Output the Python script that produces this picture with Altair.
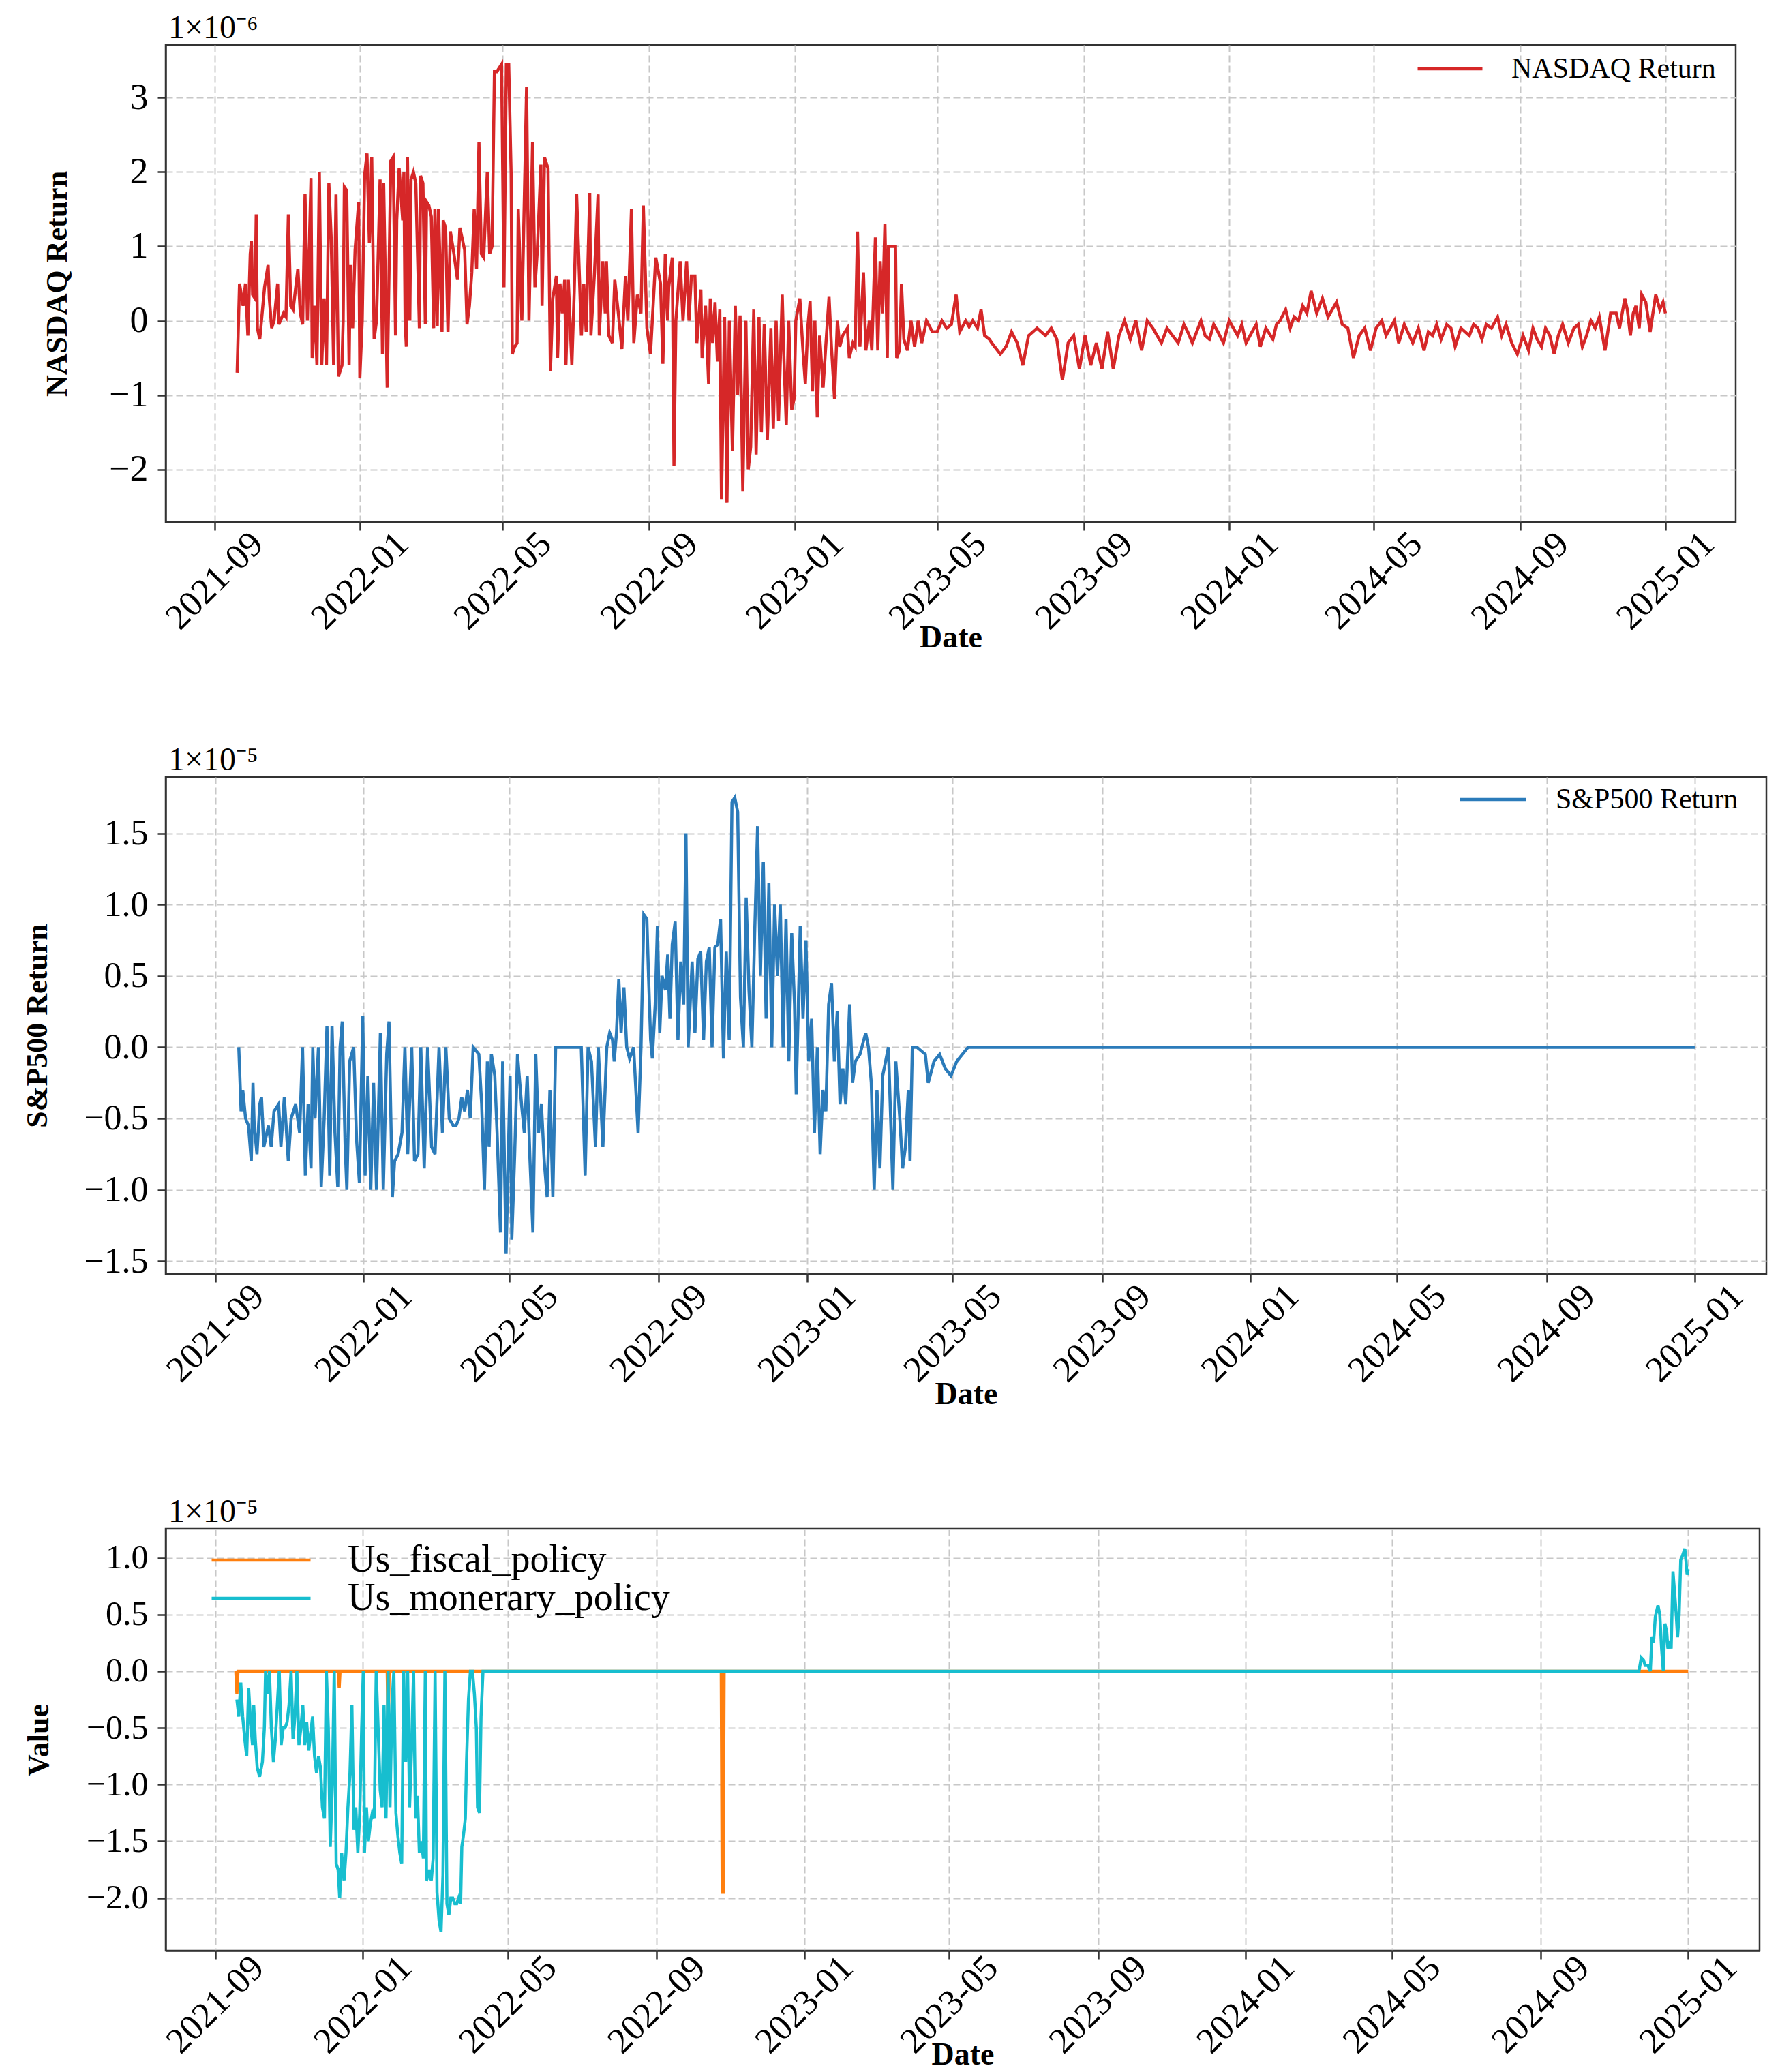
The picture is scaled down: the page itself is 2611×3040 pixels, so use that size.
import pandas as pd
import altair as alt

# -----------------------------
# DATOS
# día = días desde 2021-09-01, valor en unidades del multiplicador del eje
# -----------------------------
START = pd.Timestamp("2021-09-01")

# NASDAQ Return (x 1e-6)
nasdaq_pts = [
    (19, -0.7), (21, 0.5), (24, 0.2), (26, 0.5), (28, -0.2), (30, 0.9), (31, 1.07), (32, 0.35), (34, 0.3), (35, 1.43),
    (36, -0.1), (38, -0.25), (40, 0.1), (42, 0.45), (45, 0.75), (46, 0.3), (48, -0.1), (50, 0.0), (53, 0.5), (54, -0.05),
    (58, 0.1), (60, 0.05), (62, 1.43), (64, 0.2), (66, 0.15), (70, 0.7), (72, 0.1), (74, -0.05), (76, 1.7), (78, 0.0),
    (81, 1.92), (82, -0.5), (84, 0.2), (86, -0.6), (88, 2.0), (90, -0.6), (92, 0.3), (94, -0.6), (96, 1.85), (98, 1.1),
    (100, -0.6), (102, 1.7), (104, -0.75), (107, -0.6), (108, 0.0), (109, 1.8), (111, 1.75), (113, -0.6), (114, 0.75), (116, -0.1),
    (118, 0.95), (121, 1.6), (122, -0.77), (124, 0.0), (126, 1.95), (128, 2.25), (130, 1.05), (132, 2.2), (134, -0.25), (136, 0.0),
    (139, 1.9), (141, -0.45), (142, 1.85), (145, -0.9), (148, 2.15), (150, 2.2), (152, -0.2), (153, 1.35), (155, 2.05), (158, 1.35),
    (159, 2.0), (160, 0.0), (161, -0.35), (162, 2.2), (164, 0.0), (165, 1.9), (167, 2.0), (169, 1.85), (172, -0.1), (173, 1.95),
    (175, 1.85), (177, -0.05), (178, 1.6), (180, 1.55), (182, 1.4), (184, -0.1), (185, 1.5), (187, -0.07), (188, 1.5), (191, -0.15),
    (192, 1.35), (194, 1.25), (196, -0.15), (198, 1.2), (201, 0.9), (204, 0.55), (206, 1.25), (210, 0.95), (212, -0.05), (214, 0.2),
    (216, 0.65), (218, 1.5), (220, 0.7), (222, 2.4), (224, 0.9), (226, 0.85), (229, 2.0), (231, 0.9), (233, 1.0), (235, 3.35),
    (237, 3.35), (239, 3.4), (241, 3.45), (243, 0.45), (245, 3.45), (247, 3.45), (249, 2.0), (250, -0.45), (252, -0.35), (254, -0.3),
    (255, 1.5), (258, 0.0), (262, 3.15), (264, 0.0), (267, 2.4), (269, 0.45), (271, 0.95), (274, 2.1), (275, 0.2), (277, 2.2),
    (280, 2.05), (282, -0.68), (284, 0.3), (287, 0.6), (288, -0.5), (290, 0.5), (292, 0.1), (294, 0.55), (295, -0.6), (297, 0.55),
    (300, -0.6), (302, 0.4), (304, 1.7), (308, -0.2), (310, 0.5), (312, -0.15), (315, 1.72), (316, -0.2), (319, 0.65), (322, 1.7),
    (323, -0.2), (326, 0.8), (328, 0.1), (329, 0.8), (331, -0.2), (334, -0.3), (336, 0.55), (339, 0.1), (342, -0.38), (345, 0.6),
    (347, 0.0), (350, 1.5), (352, -0.3), (355, 0.35), (358, 0.1), (360, 1.55), (363, -0.1), (366, -0.45),
    (370.4, 0.85), (374.4, 0.5), (376.4, -0.58), (378.4, 0.9), (380.4, 0.0), (381.3, 0.45), (384.3, 0.85), (385.7, -1.95), (387.3, 0.0), (390.9, 0.8),
    (393.3, 0.0), (396.3, 0.8), (398.3, 0.0), (400.3, 0.6), (403.3, 0.6), (404.9, -0.3), (408.3, 0.42), (409.3, -0.5), (412.2, 0.2), (414.8, -0.85),
    (416.2, 0.3), (418.2, -0.3), (420.2, 0.25), (422.2, -0.55), (424.2, 0.15), (425.6, -2.4), (428.2, 0.05), (430.2, -2.45), (432.2, 0.0), (434.8, -1.75),
    (437.2, 0.2), (439.2, -1.0), (441.2, 0.07), (443.5, -2.3), (446.1, 0.0), (448.1, -2.0), (450.1, -1.7), (452.7, 0.15), (454.7, -1.8), (457.1, 0.05),
    (459.1, -1.5), (461.5, -0.05), (464.1, -1.6), (467.1, -0.1), (469.1, -1.45), (471.5, 0.0), (473.5, -1.35), (476.6, 0.35), (478.0, -0.5), (480.0, -1.4),
    (482.0, 0.0), (484.6, -1.2), (486.6, -1.05), (488.0, 0.0), (491.4, 0.3), (494.0, -0.4), (496.0, -0.85), (498.0, -0.1), (500.0, 0.26), (502.0, -0.95),
    (504.0, 0.0), (506.0, -1.3), (508.0, -0.2), (510.9, -0.9), (512.9, -0.4), (515.9, 0.32), (517.9, -0.35), (520.5, -1.05), (522.9, 0.0), (524.9, -0.35),
    (527.3, -0.2), (531.3, -0.1), (532.9, -0.5), (535.9, -0.3), (537.8, -0.35), (539.8, 1.2), (541.8, -0.35), (544.8, 0.65), (546.8, -0.4), (549.8, 0.0),
    (551.8, -0.4), (554.8, 1.12), (556.8, -0.4), (558.8, 0.8), (560.8, 0.1), (562.8, 1.3), (564.8, -0.5), (565.8, 1.0), (568.7, 1.0), (571.7, 1.0),
    (572.7, -0.5), (575.1, -0.4), (576.7, 0.5), (578.7, -0.25), (581.7, -0.4), (584.7, 0.0), (587.7, -0.35), (590.7, 0.0), (593.7, -0.3), (597.7, 0.0),
    (602.6, -0.15), (606.6, -0.15), (610.6, 0.0), (614.6, -0.1), (618.6, -0.05), (622.6, 0.35), (625.6, -0.15), (630.6, 0.0), (633.5, -0.08), (636.5, 0.0),
    (640.5, -0.1), (643.5, 0.15), (646.5, -0.2), (650.5, -0.25),
    (652.5, -0.3), (659.7, -0.45), (664.4, -0.35), (669.1, -0.15), (673.9, -0.3), (678.6, -0.6), (683.4, -0.2), (690.5, -0.1), (697.6, -0.2), (702.4, -0.1),
    (707.1, -0.25), (711.8, -0.8), (716.6, -0.3), (721.3, -0.2), (726.1, -0.65), (730.8, -0.2), (735.6, -0.6), (740.3, -0.3), (745.0, -0.65), (749.8, -0.15),
    (754.5, -0.65), (759.3, -0.2), (764.0, 0.0), (768.8, -0.25), (773.5, 0.0), (778.3, -0.4), (783.0, 0.0), (787.7, -0.1), (794.9, -0.3), (799.6, -0.1),
    (804.3, -0.2), (809.0, -0.3), (813.8, -0.05), (817.0, -0.15), (820.9, -0.3), (824.5, -0.15), (828.1, 0.0), (831.6, -0.2), (835.2, -0.25), (838.8, -0.05),
    (842.3, -0.15), (847.0, -0.3), (851.8, 0.0), (855.3, -0.1), (858.9, -0.2), (862.4, -0.05), (866.0, -0.3), (871.0, -0.15), (874.5, -0.05), (877.9, -0.35),
    (882.6, -0.1), (888.5, -0.25), (891.5, -0.05), (894.5, 0.0), (899.2, 0.15), (903.0, -0.1), (906.3, 0.05), (910.0, 0.0), (913.5, 0.2), (917.0, 0.1),
    (920.6, 0.4), (925.3, 0.1), (930.1, 0.3), (934.8, 0.05), (941.9, 0.25), (946.7, -0.05), (951.4, -0.1), (956.1, -0.5), (960.9, -0.2), (965.6, -0.1),
    (970.4, -0.4), (975.1, -0.1), (979.9, 0.0), (983.5, -0.2), (987.0, -0.1), (990.5, 0.0), (994.1, -0.3), (998.8, -0.05), (1005.9, -0.3), (1010.6, -0.1),
    (1015.4, -0.4), (1019.0, -0.15), (1022.6, -0.2), (1026.0, -0.05), (1029.7, -0.25), (1034.4, -0.05), (1038.0, -0.1), (1041.5, -0.35), (1046.3, -0.1), (1053.4, -0.2),
    (1057.0, -0.05), (1060.5, -0.1), (1064.0, -0.25), (1067.6, -0.05), (1072.0, -0.1), (1077.1, 0.05), (1080.6, -0.2), (1084.2, -0.05), (1089.0, -0.3), (1093.7, -0.45),
    (1098.5, -0.2), (1103.2, -0.4), (1106.8, -0.1), (1110.3, -0.25), (1114.0, -0.35), (1117.4, -0.1), (1121.0, -0.2), (1124.6, -0.45), (1128.1, -0.2), (1131.7, -0.05),
    (1136.5, -0.3), (1141.2, -0.1), (1144.8, -0.05), (1148.3, -0.35), (1151.8, -0.2), (1155.4, 0.0), (1159.0, -0.1), (1162.5, 0.05), (1167.3, -0.4), (1172.0, 0.1),
    (1176.7, 0.1), (1179.5, -0.1), (1183.9, 0.3), (1186.0, 0.15), (1188.6, -0.2), (1191.0, 0.1), (1193.3, 0.2), (1196.0, -0.1), (1198.1, 0.35), (1201.5, 0.25),
    (1205.2, -0.15), (1207.5, 0.1), (1209.9, 0.35), (1213.3, 0.15), (1216.0, 0.25), (1218.0, 0.1),
]

# S&P500 Return (x 1e-5)
sp500_pts = [
    (19.2, 0.0), (21.1, -0.45), (22.5, -0.3), (24.8, -0.5), (27.2, -0.55), (29.5, -0.8), (30.9, -0.25), (31.9, -0.55), (34.2, -0.75), (36.5, -0.4),
    (37.9, -0.35), (39.8, -0.7), (43.6, -0.55), (45.9, -0.7), (48.2, -0.45), (52.0, -0.4), (53.9, -0.7), (56.7, -0.35), (60.0, -0.8), (62.3, -0.5),
    (66.0, -0.4), (69.3, -0.6), (71.7, 0.0), (74.0, -0.9), (76.3, -0.4), (78.7, -0.85), (80.1, 0.0), (82.0, -0.5), (84.8, 0.0), (87.1, -0.98),
    (89.5, -0.5), (91.8, 0.15), (94.1, -0.9), (96.0, 0.15), (98.4, -0.6), (100.7, -0.98), (102.6, 0.0), (104.4, 0.18), (106.8, -0.7), (108.2, -1.0),
    (110.5, -0.1), (113.8, 0.0), (116.2, -0.65), (118.5, -0.95), (121.3, 0.22), (123.2, -0.9), (125.5, -0.2), (127.9, -1.0), (130.2, -0.25), (132.6, -1.0),
    (135.8, 0.1), (138.2, -1.0), (141.0, -0.05), (142.9, 0.18), (145.7, -1.05), (147.5, -0.8), (150.4, -0.75), (153.6, -0.6), (156.0, 0.0), (158.3, -0.75),
    (161.6, 0.0), (163.9, -0.8), (166.7, -0.75), (169.1, 0.0), (171.9, -0.85), (174.7, 0.0), (178.0, -0.7), (180.8, -0.75), (184.1, 0.0), (186.9, -0.6),
    (189.7, 0.0), (192.5, -0.5), (195.8, -0.55), (198.1, -0.55), (200.5, -0.5), (202.8, -0.35), (205.2, -0.45), (207.5, -0.3), (209.8, -0.5), (212.2, 0.0),
    (216.9, -0.05), (219.2, -0.4), (221.5, -1.0), (223.9, -0.1), (225.3, -0.7), (227.2, -0.05), (230.0, -0.2), (231.9, -0.6), (234.7, -1.3), (236.5, -0.1),
    (239.3, -1.45), (242.6, -0.2), (244.0, -1.35), (246.4, -0.75), (248.7, -0.05), (252.0, -0.4), (254.3, -0.6), (256.7, -0.2), (259.0, -0.8), (261.4, -1.3),
    (263.7, -0.05), (266.0, -0.6), (268.4, -0.4), (270.7, -0.8), (273.1, -1.05), (275.4, -0.3), (277.8, -1.05), (280.1, 0.0), (301.2, 0.0), (304.4, -0.9),
    (306.8, 0.0), (309.6, -0.1), (312.9, -0.7), (315.2, 0.0), (319.0, -0.7), (322.2, 0.0), (324.6, 0.1), (326.9, 0.05), (328.3, -0.1), (330.2, 0.1),
    (332.1, 0.48), (334.0, 0.1), (336.3, 0.42), (338.6, 0.0), (341.0, -0.08), (344.3, 0.0), (348.0, -0.6), (350.4, 0.0), (352.7, 0.93), (355.2, 0.9),
    (356.4, 0.55), (358.3, 0.05), (359.7, -0.08), (362.1, 0.3), (363.9, 0.85), (365.8, 0.1), (367.7, 0.5), (370.5, 0.4), (372.4, 0.65), (374.2, 0.2),
    (376.1, 0.72), (378.5, 0.88), (380.8, 0.05), (383.1, 0.6), (385.5, 0.3), (387.4, 1.5), (389.2, 0.0), (392.5, 0.6), (394.8, 0.1), (397.2, 0.62),
    (399.5, 0.67), (401.9, 0.05), (404.2, 0.6), (406.6, 0.7), (408.9, 0.0), (411.2, 0.7), (413.6, 0.72), (415.9, 0.9), (418.3, -0.08), (420.6, 0.67),
    (423.0, 0.05), (425.3, 1.72), (427.6, 1.75), (430.0, 1.65), (432.3, 0.35), (434.7, 0.0), (437.0, 1.05), (439.3, 0.4), (441.7, 0.0), (444.0, 0.8),
    (446.4, 1.55), (448.7, 0.5), (451.1, 1.3), (453.4, 0.2), (455.7, 1.15), (458.1, 0.0), (460.4, 1.0), (462.8, 0.5), (465.1, 1.0), (467.4, 0.0),
    (469.8, 0.9), (472.1, -0.1), (474.5, 0.8), (476.8, 0.3), (478.2, -0.33), (481.5, 0.85), (483.8, 0.2), (486.2, 0.75), (488.5, -0.1), (490.9, 0.2),
    (493.2, -0.6), (495.6, 0.0), (497.9, -0.75), (500.2, -0.3), (502.6, -0.45), (504.9, 0.3), (507.3, 0.45), (509.6, -0.1), (512.0, 0.25), (514.3, -0.4),
    (516.6, -0.15), (519.0, -0.4), (522.2, 0.3), (524.6, -0.25), (526.9, -0.1), (530.7, -0.05), (535.4, 0.1), (537.7, 0.0), (540.0, -0.25), (542.4, -1.0),
    (544.7, -0.3), (547.1, -0.85), (549.4, -0.2), (551.8, -0.1), (554.1, 0.0), (557.8, -1.0), (560.2, -0.1), (563.5, -0.5), (565.8, -0.85), (568.1, -0.7),
    (570.5, -0.3), (571.9, -0.8), (573.8, 0.0), (577.5, 0.0), (584.5, -0.05), (586.9, -0.25), (591.6, -0.1), (596.3, -0.05), (600.9, -0.15), (605.6, -0.2),
    (610.3, -0.1), (615.0, -0.05), (619.7, 0.0), (1218.0, 0.0),
]

# Us_fiscal_policy (x 1e-5)
fiscal_pts = [
    (17.0, 0.0), (17.9, -0.2), (18.8, 0.0), (101.8, 0.0), (102.5, -0.15), (103.2, 0.0), (142.2, 0.0), (143.0, -0.55),
    (143.8, 0.0), (418.4, 0.0), (419.2, -1.95), (420.0, -1.95), (420.8, 0.0), (1218.0, 0.0),
]

# Us_monerary_policy (x 1e-5)
monetary_pts = [
    (17.9, -0.25), (19.5, -0.4), (21.1, -0.1), (22.7, -0.4), (24.4, -0.6), (26.0, -0.75), (27.6, -0.15), (29.2, -0.45), (30.8, -0.65), (31.8, -0.3),
    (33.1, -0.6), (34.7, -0.85), (36.7, -0.93), (39.0, -0.8), (40.6, -0.5), (41.6, 0.0), (43.2, -0.2), (44.8, 0.0), (46.4, -0.5), (48.1, -0.8),
    (49.7, -0.6), (51.3, -0.3), (52.9, 0.0), (54.5, -0.65), (56.2, -0.5), (57.8, -0.5), (59.4, -0.45), (61.0, -0.3), (62.7, 0.0), (64.3, -0.6),
    (65.9, -0.4), (67.5, 0.0), (69.2, -0.65), (70.8, -0.5), (72.4, -0.3), (74.0, -0.65), (75.6, -0.45), (77.3, -0.7), (78.9, -0.55), (80.5, -0.4),
    (82.1, -0.75), (83.8, -0.9), (85.4, -0.75), (87.0, -0.85), (88.6, -1.2), (90.3, -1.3), (91.9, 0.0), (93.5, -0.5), (95.1, -1.55), (96.8, -1.0),
    (98.4, 0.0), (100.0, -1.7), (101.6, -1.75), (102.9, -2.0), (104.5, -1.6), (106.5, -1.85), (108.1, -1.6), (109.7, -1.2), (111.4, -0.9), (113.0, -0.3),
    (114.6, -1.4), (116.2, -1.2), (117.9, -1.6), (119.5, -1.25), (121.1, -0.5), (122.4, 0.0), (123.4, -1.6), (125.0, -1.2), (126.6, -1.5), (128.2, -1.35),
    (129.9, -1.25), (131.5, -1.3), (133.1, 0.0), (134.7, -0.5), (136.4, -1.05), (138.0, -1.2), (139.6, -0.3), (141.2, -1.3), (142.9, 0.0), (144.5, -1.2),
    (146.1, -0.3), (147.7, 0.0), (149.4, -1.25), (151.0, -1.45), (152.6, -1.6), (154.2, -1.7), (155.8, 0.0), (157.5, -0.8), (159.1, 0.0), (160.7, -1.2),
    (162.3, -0.7), (164.0, 0.0), (165.6, -1.3), (167.2, -1.1), (168.8, -1.6), (170.5, -1.5), (172.1, -1.65), (173.7, 0.0), (174.7, -1.85), (176.9, -1.75),
    (178.6, -1.85), (180.2, -1.65), (181.8, 0.0), (183.4, -1.95), (185.1, -2.2), (186.7, -2.3), (188.3, -1.8), (189.9, 0.0), (191.6, -2.05), (193.2, -2.15),
    (194.8, -2.0), (196.4, -2.0), (198.1, -2.05), (199.7, -2.05), (201.3, -2.0), (202.9, -2.05), (203.9, -1.55), (205.2, -1.45), (206.8, -1.3), (207.8, -0.8),
    (209.4, -0.25), (211.0, 0.0), (212.7, 0.0), (214.3, -0.2), (215.9, -0.5), (216.9, -1.2), (218.5, -1.25), (219.8, -0.4), (221.4, 0.0), (1177.3, 0.0),
    (1179.2, 0.12), (1181.0, 0.1), (1182.4, 0.05), (1184.8, 0.05), (1186.7, 0.0), (1188.0, 0.3), (1189.3, 0.25), (1190.8, 0.48), (1193.0, 0.58), (1194.5, 0.5),
    (1196.0, 0.2), (1197.4, 0.0), (1198.7, 0.42), (1200.2, 0.35), (1201.2, 0.2), (1203.0, 0.25), (1203.9, 0.2), (1205.4, 0.88), (1206.7, 0.7), (1208.1, 0.5),
    (1209.2, 0.3), (1210.5, 0.5), (1211.8, 0.98), (1213.3, 1.02), (1215.2, 1.08), (1216.1, 0.98), (1217.1, 0.85), (1218.0, 0.9),
]

x_ticks = [(2021, 9), (2022, 1), (2022, 5), (2022, 9), (2023, 1), (2023, 5),
           (2023, 9), (2024, 1), (2024, 5), (2024, 9), (2025, 1)]

FONT = "Liberation Serif"
LINE_PATH = "M-1,0H9"  # simbolo de leyenda: linea horizontal
LW = 4.5


def to_df(points, name):
    pts = sorted(points)
    dates = START + pd.to_timedelta([p[0] for p in pts], unit="D")
    return pd.DataFrame({
        "date": dates.strftime("%Y-%m-%dT%H:%M:%S"),
        "value": [p[1] for p in pts],
        "series": name,
    })


def x_enc(label_pad, title_y):
    return alt.X(
        "date:T", title="Date",
        scale=alt.Scale(domain=[alt.DateTime(year=2021, month=7, date=22),
                                alt.DateTime(year=2025, month=3, date=1)]),
        axis=alt.Axis(values=[alt.DateTime(year=y, month=m, date=1) for y, m in x_ticks],
                      format="%Y-%m", labelAngle=315, labelAlign="center",
                      labelBaseline="middle", labelPadding=label_pad, labelFlush=False,
                      labelOverlap=False, labelFontSize=53,
                      titleY=title_y, titleBaseline="middle", titleFontSize=46)
    )


def y_enc(title, ticks, dom, fmt, title_x, height, label_size):
    return alt.Y(
        "value:Q", title=title,
        scale=alt.Scale(domain=dom, nice=False, zero=False),
        axis=alt.Axis(values=ticks, format=fmt, labelFontSize=label_size, labelPadding=14,
                      titleX=title_x, titleY=height / 2, titleAngle=270,
                      titleBaseline="middle", titleFontSize=44)
    )


def legend(x, y, size, offset, font_size, row_pad=0):
    return alt.Legend(title=None, orient="none", legendX=x, legendY=y,
                      symbolType=LINE_PATH, symbolSize=size, symbolStrokeWidth=LW,
                      labelFontSize=font_size, labelOffset=offset, labelFont=FONT,
                      labelColor="black", labelLimit=0, padding=0, rowPadding=row_pad)


def offset_title(text):
    return alt.TitleParams(text=text, anchor="start", frame="group", fontSize=48,
                           font=FONT, fontWeight="normal", offset=0, dx=4)


# --------------------------
# PANEL 1: NASDAQ
# --------------------------
W1, H1 = 2303, 700
df1 = to_df(nasdaq_pts, "NASDAQ Return")
p1 = alt.Chart(df1).mark_line(strokeWidth=LW).encode(
    x=x_enc(74, 169),
    y=y_enc("NASDAQ Return", [-2, -1, 0, 1, 2, 3], [-2.71, 3.71], "d", -159, H1, 54),
    color=alt.Color("series:N",
                    scale=alt.Scale(domain=["NASDAQ Return"], range=["#d62728"]),
                    legend=legend(1825, 14, 361, 107, 42)),
).properties(width=W1, height=H1, title=offset_title("1×10⁻⁶"))

# --------------------------
# PANEL 2: S&P500
# --------------------------
W2, H2 = 2348, 729
df2 = to_df(sp500_pts, "S&P500 Return")
p2 = alt.Chart(df2).mark_line(strokeWidth=LW).encode(
    x=x_enc(75, 176),
    y=y_enc("S&P500 Return", [-1.5, -1.0, -0.5, 0.0, 0.5, 1.0, 1.5], [-1.59, 1.895], ".1f", -188, H2, 52),
    color=alt.Color("series:N",
                    scale=alt.Scale(domain=["S&P500 Return"], range=["#2b7bba"]),
                    legend=legend(1887, 12, 376, 110, 42)),
).properties(width=W2, height=H2, title=offset_title("1×10⁻⁵"))

# --------------------------
# PANEL 3: POLITICAS
# --------------------------
W3, H3 = 2338, 619
pol_names = ["Us_fiscal_policy", "Us_monerary_policy"]
pol_colors = ["#ff7f0e", "#17becf"]
df_f = to_df(fiscal_pts, pol_names[0])
df_m = to_df(monetary_pts, pol_names[1])

y3 = y_enc("Value", [-2.0, -1.5, -1.0, -0.5, 0.0, 0.5, 1.0], [-2.465, 1.256], ".1f", -186, H3, 50)
col3 = alt.Color("series:N", scale=alt.Scale(domain=pol_names, range=pol_colors),
                 legend=legend(54, 18, 841, 157, 56, 0))

fiscal = alt.Chart(df_f).mark_line(strokeWidth=LW).encode(x=x_enc(67, 152), y=y3, color=col3)
monetary = alt.Chart(df_m).mark_line(strokeWidth=LW).encode(x=x_enc(67, 152), y=y3, color=col3)
p3 = (fiscal + monetary).properties(width=W3, height=H3, title=offset_title("1×10⁻⁵"))

chart = alt.vconcat(p1, p2, p3, spacing=374, bounds="flush").resolve_scale(
    color="independent"
).resolve_legend(
    color="independent"
).properties(
    padding={"left": 23, "top": 8, "right": 0, "bottom": 0}
).configure(
    font=FONT
).configure_view(
    stroke="#333333", strokeWidth=2.5
).configure_axis(
    labelFont=FONT, titleFont=FONT, labelColor="black", titleColor="black",
    titleFontWeight="bold", domainColor="#333333", domainWidth=2.5,
    tickColor="#333333", tickWidth=2.5, tickSize=12,
    grid=True, gridColor="#c8c8c8", gridDash=[10, 5], gridWidth=2
)

chart.save("out.html", embed_options={"renderer": "svg", "actions": False})
